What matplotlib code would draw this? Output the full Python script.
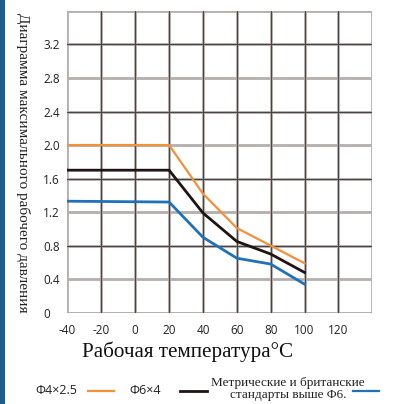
import matplotlib
matplotlib.use("Agg")
import matplotlib.pyplot as plt
from matplotlib.patches import Rectangle
from matplotlib.lines import Line2D

# Data
temps = [-40, 20, 40, 60, 80, 100]
p_d4 = [2.00, 2.00, 1.42, 1.01, 0.80, 0.59]       # Φ4×2.5
p_d6 = [1.70, 1.70, 1.19, 0.85, 0.70, 0.48]       # Φ6×4
p_metric = [1.33, 1.32, 0.90, 0.65, 0.58, 0.34]   # metric / imperial above Φ6

x_ticks = [-40, -20, 0, 20, 40, 60, 80, 100, 120]
y_ticks = [0, 0.4, 0.8, 1.2, 1.6, 2.0, 2.4, 2.8, 3.2]
y_tick_labels = ["0", "0.4", "0.8", "1.2", "1.6", "2.0", "2.4", "2.8", "3.2"]

c_orange = "#f0913c"
c_black = "#1e1414"
c_blue = "#1f72b8"
grid_gray = "#b4aeac"
grid_dark = "#4a4444"

fig = plt.figure(figsize=(4.13, 4.04), dpi=100)
ax = fig.add_axes([0.1634, 0.226, 0.738, 0.747])

# Grid: gray lines, most with a darker thin core
for xv in range(-40, 141, 20):
    ax.axvline(xv, color=grid_gray, lw=2.0, zorder=1)
    if -40 < xv < 140:
        ax.axvline(xv, color=grid_dark, lw=0.8, zorder=1.5)
for i in range(10):
    yv = 0.4 * i
    ax.axhline(yv, color=grid_gray, lw=2.0, zorder=1)
    if i % 2 == 0 and i < 9:
        ax.axhline(yv, color=grid_dark, lw=0.8, zorder=1.5)

ax.plot(temps, p_d4, color=c_orange, lw=1.6, zorder=3)
ax.plot(temps, p_d6, color=c_black, lw=2.0, zorder=3)
ax.plot(temps, p_metric, color=c_blue, lw=2.0, zorder=3)

ax.set_xlim(-40, 140)
ax.set_ylim(0, 3.6)
ax.set_xticks(x_ticks)
ax.set_xticklabels([str(t) for t in x_ticks])
ax.set_yticks(y_ticks)
ax.set_yticklabels(y_tick_labels)
ax.tick_params(length=0, labelsize=8.5, labelcolor="#222222")
ax.tick_params(axis="x", pad=8)
ax.tick_params(axis="y", pad=17.5)
for lab in ax.get_yticklabels():
    lab.set_horizontalalignment("left")
for lab in ax.get_xticklabels() + ax.get_yticklabels():
    lab.set_family("Open Sans")
for s in ax.spines.values():
    s.set_visible(False)

fig.text(0.056, 0.598, "Диаграмма максимального рабочего давления",
         rotation=-90, ha="center", va="center",
         family="Liberation Serif", fontsize=11, color="#222222")
fig.text(0.453, 0.129, "Рабочая температура°C", ha="center", va="center",
         family="Liberation Serif", fontsize=15.2, color="#111111")

# left blue strip
fig.add_artist(Rectangle((0, 0), 5 / 413, 1, transform=fig.transFigure,
                         color="#1d5e8e", lw=0))

# legend row
ly = 1 - 390.5 / 404
fig.text(35 / 413, ly, "Φ4×2.5", ha="left", va="center", family="Open Sans",
         fontsize=9, color="#222222")
fig.add_artist(Line2D([88 / 413, 114 / 413], [ly, ly], color=c_orange, lw=1.6))
fig.text(129 / 413, ly, "Φ6×4", ha="left", va="center", family="Open Sans",
         fontsize=9, color="#222222")
fig.add_artist(Line2D([180 / 413, 207 / 413], [ly, ly], color=c_black, lw=2.0))
fig.text(288 / 413, 1 - 389 / 404, "Метрические и британские\nстандарты выше Φ6.",
         ha="center", va="center", family="Liberation Serif", fontsize=9.5,
         color="#222222", linespacing=1.0)
fig.add_artist(Line2D([353 / 413, 379 / 413], [ly, ly], color=c_blue, lw=1.6))

fig.savefig("out.png", dpi=100)
